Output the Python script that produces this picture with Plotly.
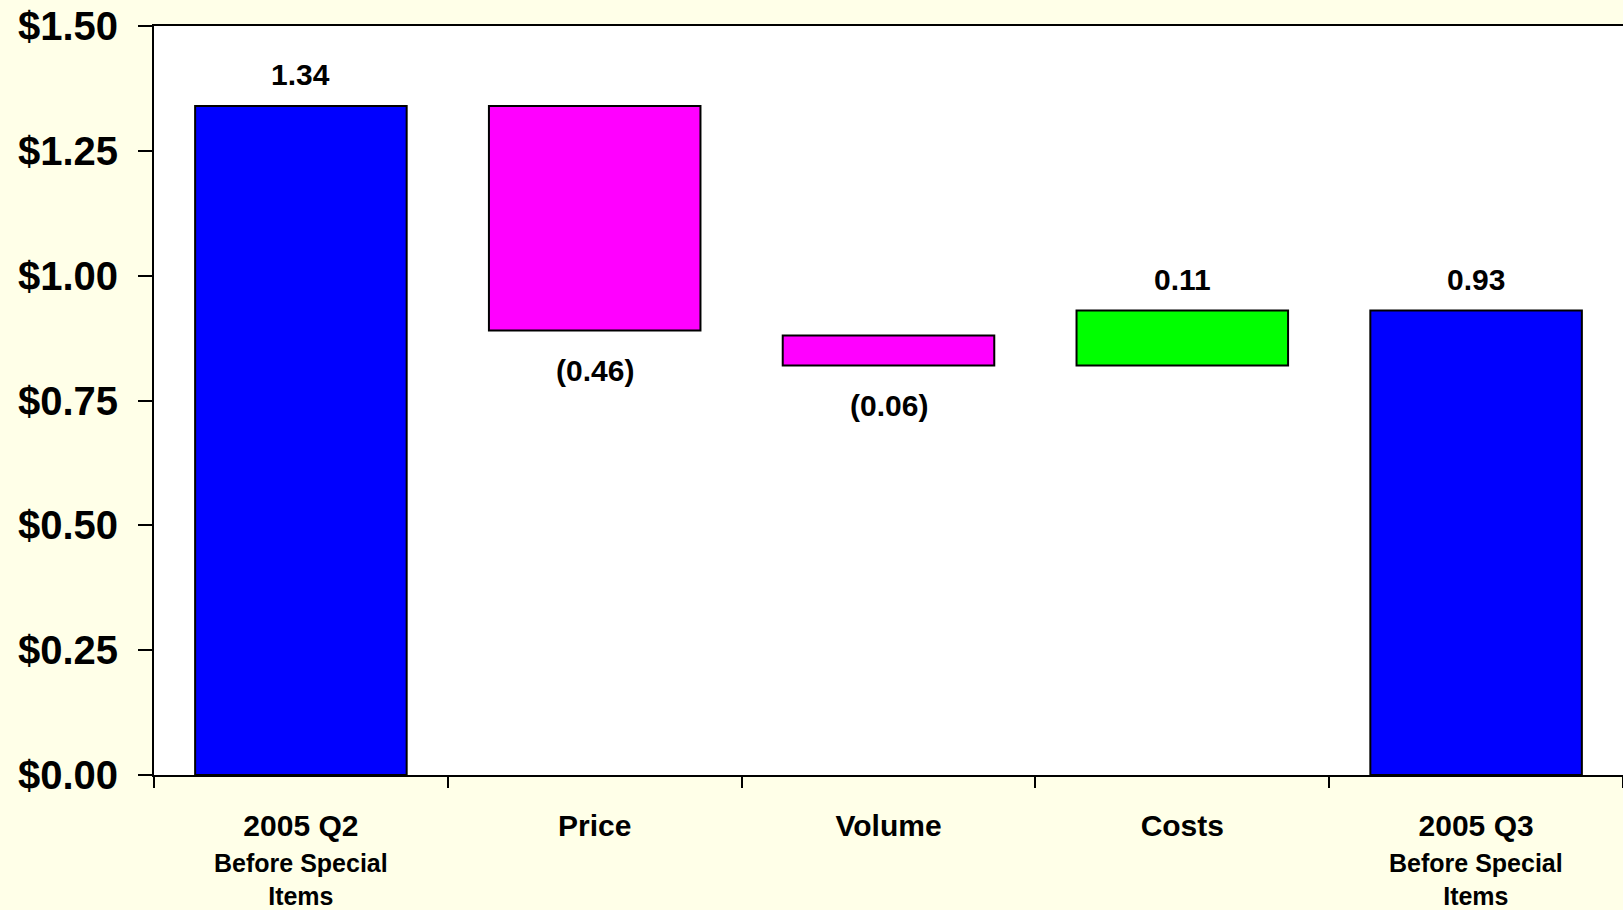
import plotly.graph_objects as go

# Data
categories = ["2005 Q2", "Price", "Volume", "Costs", "2005 Q3"]
sub_labels = ["Before Special<br>Items", "", "", "", "Before Special<br>Items"]
bar_low = [0.0, 0.89, 0.82, 0.82, 0.0]
bar_high = [1.34, 1.34, 0.88, 0.93, 0.93]
value_labels = ["1.34", "(0.46)", "(0.06)", "0.11", "0.93"]
label_side = ["top", "bottom", "bottom", "top", "top"]
bar_colors = ["#0000FF", "#FF00FF", "#FF00FF", "#00FF00", "#0000FF"]
y_ticks = [0.0, 0.25, 0.5, 0.75, 1.0, 1.25, 1.5]
y_tick_labels = ["$0.00", "$0.25", "$0.50", "$0.75", "$1.00", "$1.25", "$1.50"]

FONT = "Liberation Sans, Arial, sans-serif"

fig = go.Figure()
fig.add_trace(go.Bar(
    x=categories,
    y=[h - l for h, l in zip(bar_high, bar_low)],
    base=bar_low,
    width=0.72,
    marker=dict(color=bar_colors, line=dict(color="black", width=2)),
    hoverinfo="skip",
))

for c, lo, hi, lab, side in zip(categories, bar_low, bar_high, value_labels, label_side):
    if side == "top":
        fig.add_annotation(x=c, y=hi, text=lab, showarrow=False,
                           yanchor="middle", yshift=31,
                           font=dict(family=FONT, size=30, color="black", weight="bold"))
    else:
        fig.add_annotation(x=c, y=lo, text=lab, showarrow=False,
                           yanchor="middle", yshift=-40,
                           font=dict(family=FONT, size=30, color="black", weight="bold"))

# second-line category captions under the tick labels
for c, s in zip(categories, sub_labels):
    if s:
        fig.add_annotation(x=c, xref="x", y=0, yref="paper", text=s,
                           showarrow=False, yanchor="top", yshift=-72,
                           font=dict(family=FONT, size=25, color="black", weight="bold"))

fig.update_layout(
    width=1623, height=910,
    margin=dict(l=154, r=0, t=26, b=135),
    paper_bgcolor="#FFFFE8",
    plot_bgcolor="white",
    showlegend=False,
    font=dict(family=FONT, color="black"),
)
fig.update_xaxes(
    type="category",
    categoryorder="array", categoryarray=categories,
    tickvals=categories, ticktext=categories,
    tickson="boundaries",
    ticks="outside", ticklen=11, tickwidth=2, tickcolor="black",
    showline=True, linecolor="black", linewidth=2, mirror=True,
    showgrid=False, range=[-0.5, 4.5],
    automargin=False,
    ticklabelstandoff=23,
    tickfont=dict(family=FONT, size=30, color="black", weight="bold"),
)
fig.update_yaxes(
    range=[0, 1.5],
    tickvals=y_ticks, ticktext=y_tick_labels,
    ticks="outside", ticklen=14, tickwidth=2, tickcolor="black",
    showline=True, linecolor="black", linewidth=2,
    showgrid=False, zeroline=False,
    automargin=False,
    ticklabelstandoff=12,
    tickfont=dict(family=FONT, size=40, color="black", weight="bold"),
)

fig.write_html("out.html", config={"displayModeBar": False},
               post_script="document.body.style.margin='0';")
